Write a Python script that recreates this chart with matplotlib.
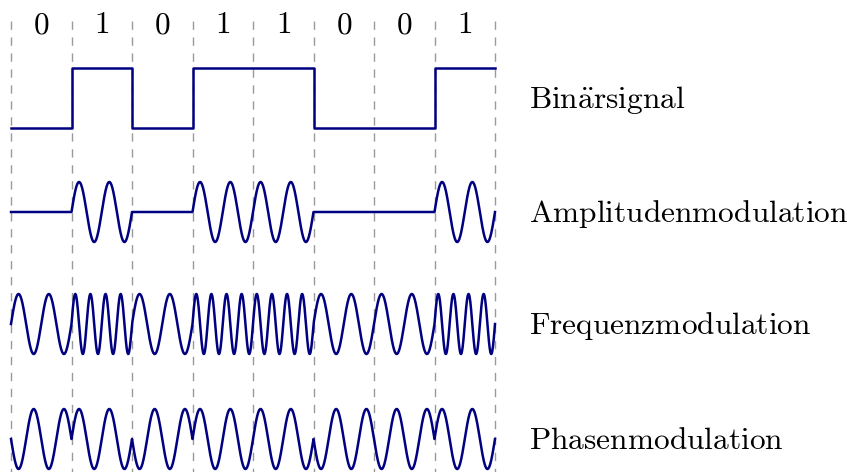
import numpy as np
import matplotlib
matplotlib.use("Agg")
import matplotlib.pyplot as plt

# Data
bits = [0, 1, 0, 1, 1, 0, 0, 1]
row_labels = [r"$\mathrm{Bin\ddot{a}rsignal}$",
              r"$\mathrm{Amplitudenmodulation}$",
              r"$\mathrm{Frequenzmodulation}$",
              r"$\mathrm{Phasenmodulation}$"]
carrier_cycles = 2          # periods per bit (AM, PM, FM for 0)
fm_cycles = {0: 2, 1: 4}    # periods per bit for FM

plt.rcParams['mathtext.fontset'] = 'cm'
plt.rcParams['lines.scale_dashes'] = False

fig = plt.figure(figsize=(8.47, 4.72), dpi=100)
ax = fig.add_axes([0, 0, 1, 1])
ax.axis('off')

# 1 unit on x = one bit (60.5 px), 1 unit on y = 60 px
ax.set_xlim(-11 / 60.5, (847 - 11) / 60.5)
ax.set_ylim(0, 472 / 60)

col = 'navy'
lw = 1.8
amp = 0.5

# row positions (signal centre lines)
y_bin = (472 - 128) / 60
y_am = (472 - 212) / 60
y_fm = (472 - 324) / 60
y_pm = (472 - 439) / 60
row_y = [y_bin + 0.5, y_am, y_fm, y_pm]

n = len(bits)
top = (472 - 21) / 60

# dashed bit boundaries
for i in range(n + 1):
    ax.plot([i, i], [top, 0], color='#9a9a9a', lw=1.0,
            linestyle=(0, (6, 5.5)), zorder=1)

# bit labels
for i, b in enumerate(bits):
    ax.text(i + 0.5, (472 - 33) / 60, r"$\mathrm{%d}$" % b, fontsize=22.5,
            ha='center', va='baseline')

# binary signal
ax.step(np.arange(n + 1), y_bin + np.array(bits + [bits[-1]]), where='post',
        color=col, lw=lw, zorder=3)

# modulated signals
tt = np.linspace(0, 1, 300)
xs, am, fm, pm = [], [], [], []
for i, b in enumerate(bits):
    xs.append(i + tt)
    am.append(b * amp * np.sin(2 * np.pi * carrier_cycles * tt))
    fm.append(amp * np.sin(2 * np.pi * fm_cycles[b] * tt))
    pm.append((1 if b else -1) * amp * np.sin(2 * np.pi * carrier_cycles * tt))
xs = np.concatenate(xs)
ax.plot(xs, y_am + np.concatenate(am), color=col, lw=lw, zorder=3)
ax.plot(xs, y_fm + np.concatenate(fm), color=col, lw=lw, zorder=3)
ax.plot(xs, y_pm + np.concatenate(pm), color=col, lw=lw, zorder=3)

# row names
label_x = (529 - 11) / 60.5
for lab, y in zip(row_labels, row_y):
    ax.text(label_x, y - 10 / 60, lab, fontsize=22.6, ha='left', va='baseline')

fig.savefig('out.png', dpi=100)
